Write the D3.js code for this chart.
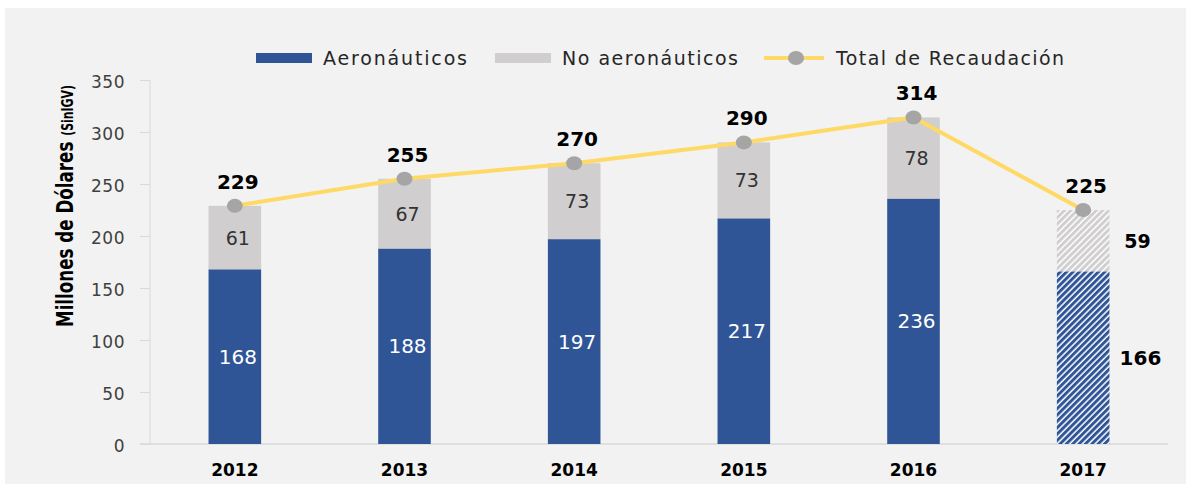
<!DOCTYPE html>
<html>
<head>
<meta charset="utf-8">
<script src="https://cdn.jsdelivr.net/npm/d3@7"></script>
<style>
  body { margin: 0; background: #fff; }
  svg { display: block; font-family: "DejaVu Sans", sans-serif; }
</style>
</head>
<body>
<svg id="chart" width="1186" height="486"></svg>
<script>
  // data
  var years = ["2012", "2013", "2014", "2015", "2016", "2017"];
  var aero = [168, 188, 197, 217, 236, 166];
  var noAero = [61, 67, 73, 73, 78, 59];
  var total = [229, 255, 270, 290, 314, 225];
  var yTicks = [0, 50, 100, 150, 200, 250, 300, 350];
  var projected = "2017";

  var blue = "#2f5597", grey = "#d0cece", yellow = "#ffd966", dot = "#a5a5a5";

  var svg = d3.select("#chart");

  // grey panel
  svg.append("rect")
      .attr("x", 5).attr("y", 8)
      .attr("width", 1181).attr("height", 476)
      .attr("fill", "#f2f2f2");

  var defs = svg.append("defs");
  function hatch(id, color) {
    var p = defs.append("pattern")
        .attr("id", id)
        .attr("patternUnits", "userSpaceOnUse")
        .attr("width", 4.5).attr("height", 4.5)
        .attr("patternTransform", "rotate(45)");
    p.append("rect").attr("width", 4.5).attr("height", 4.5).attr("fill", "#fff");
    p.append("rect").attr("width", 3).attr("height", 4.5).attr("fill", color);
  }
  hatch("hatchBlue", blue);
  hatch("hatchGrey", grey);

  var x = d3.scaleBand()
      .domain(years)
      .range([150, 1168])
      .paddingInner(0.69)
      .paddingOuter(0.345);

  var y = d3.scaleLinear()
      .domain([0, 350])
      .range([444, 80]);

  // axis lines
  svg.append("line")
      .attr("x1", 150).attr("x2", 150)
      .attr("y1", y(350)).attr("y2", y(0))
      .attr("stroke", "#d9d9d9");
  svg.append("line")
      .attr("x1", 140).attr("x2", 1168)
      .attr("y1", y(0)).attr("y2", y(0))
      .attr("stroke", "#d9d9d9").attr("stroke-width", 1.5);

  var yAxis = svg.append("g")
      .attr("transform", "translate(150,0)")
      .call(d3.axisLeft(y).tickValues(yTicks).tickSize(10).tickPadding(15));
  yAxis.select(".domain").remove();
  yAxis.selectAll("line").attr("stroke", "#d9d9d9");
  yAxis.selectAll("text")
      .attr("fill", "#404040")
      .attr("dy", "0.45em")
      .style("font-family", "'DejaVu Sans', sans-serif")
      .style("font-size", "17px")
      .style("letter-spacing", "0.5px");

  // y title (condensed via textLength)
  var title = svg.append("text")
      .attr("transform", "translate(73,206) rotate(-90)")
      .attr("text-anchor", "middle")
      .attr("textLength", 242)
      .attr("lengthAdjust", "spacingAndGlyphs")
      .attr("fill", "#000");
  title.append("tspan").text("Millones de Dólares ")
      .style("font-size", "23px").style("font-weight", "bold");
  title.append("tspan").text("(SinIGV)")
      .style("font-size", "15px").style("font-weight", "bold");

  // x labels
  svg.append("g").selectAll("text")
      .data(years)
      .enter().append("text")
      .attr("x", function(d) { return x(d) + x.bandwidth() / 2; })
      .attr("y", 476)
      .attr("text-anchor", "middle")
      .style("font-size", "17px").style("font-weight", "bold")
      .text(function(d) { return d; });

  // bars
  var bar = svg.append("g").selectAll("g")
      .data(years)
      .enter().append("g");

  bar.append("rect")
      .attr("x", function(d) { return x(d); })
      .attr("width", x.bandwidth())
      .attr("y", function(d, i) { return y(aero[i]); })
      .attr("height", function(d, i) { return y(0) - y(aero[i]); })
      .attr("fill", function(d) { return d === projected ? "url(#hatchBlue)" : blue; });

  bar.append("rect")
      .attr("x", function(d) { return x(d); })
      .attr("width", x.bandwidth())
      .attr("y", function(d, i) { return y(aero[i] + noAero[i]); })
      .attr("height", function(d, i) { return y(aero[i]) - y(aero[i] + noAero[i]); })
      .attr("fill", function(d) { return d === projected ? "url(#hatchGrey)" : grey; });

  // segment labels
  bar.append("text")
      .attr("x", function(d) { return d === projected ? x(d) + x.bandwidth() + 31 : x(d) + x.bandwidth() / 2 + 3; })
      .attr("y", function(d, i) { return (y(0) + y(aero[i])) / 2 + 7; })
      .attr("text-anchor", "middle")
      .attr("fill", function(d) { return d === projected ? "#000" : "#fff"; })
      .style("font-size", "20px")
      .style("font-weight", function(d) { return d === projected ? "bold" : "normal"; })
      .text(function(d, i) { return aero[i]; });

  bar.append("text")
      .attr("x", function(d) { return d === projected ? x(d) + x.bandwidth() + 28 : x(d) + x.bandwidth() / 2 + 3; })
      .attr("y", function(d, i) { return (y(aero[i]) + y(aero[i] + noAero[i])) / 2 + 7; })
      .attr("text-anchor", "middle")
      .attr("fill", function(d) { return d === projected ? "#000" : "#333"; })
      .style("font-size", "19px")
      .style("font-weight", function(d) { return d === projected ? "bold" : "normal"; })
      .text(function(d, i) { return noAero[i]; });

  // total line
  var line = d3.line()
      .x(function(d, i) { return x(years[i]) + x.bandwidth() / 2; })
      .y(function(d) { return y(d); });

  svg.append("path")
      .datum(total)
      .attr("d", line)
      .attr("fill", "none")
      .attr("stroke", yellow)
      .attr("stroke-width", 4);

  svg.append("g").selectAll("ellipse")
      .data(total)
      .enter().append("ellipse")
      .attr("cx", function(d, i) { return x(years[i]) + x.bandwidth() / 2; })
      .attr("cy", function(d) { return y(d); })
      .attr("rx", 8).attr("ry", 7)
      .attr("fill", dot);

  svg.append("g").selectAll("text")
      .data(total)
      .enter().append("text")
      .attr("x", function(d, i) { return x(years[i]) + x.bandwidth() / 2 + 3; })
      .attr("y", function(d) { return y(d) - 17; })
      .attr("text-anchor", "middle")
      .style("font-size", "20px").style("font-weight", "bold")
      .text(function(d) { return d; });

  // legend
  var legend = svg.append("g").style("font-size", "19px").attr("fill", "#262626");
  legend.append("rect").attr("x", 256).attr("y", 53).attr("width", 56).attr("height", 10).attr("fill", blue);
  legend.append("text").attr("x", 323).attr("y", 65).attr("textLength", 144).attr("lengthAdjust", "spacing").text("Aeronáuticos");
  legend.append("rect").attr("x", 495).attr("y", 53).attr("width", 56).attr("height", 10).attr("fill", grey);
  legend.append("text").attr("x", 562).attr("y", 65).attr("textLength", 176).attr("lengthAdjust", "spacing").text("No aeronáuticos");
  legend.append("line").attr("x1", 764).attr("x2", 824).attr("y1", 58).attr("y2", 58)
      .attr("stroke", yellow).attr("stroke-width", 4);
  legend.append("ellipse").attr("cx", 796).attr("cy", 58).attr("rx", 8).attr("ry", 7).attr("fill", dot);
  legend.append("text").attr("x", 836).attr("y", 65).attr("textLength", 228).attr("lengthAdjust", "spacing").text("Total de Recaudación");
</script>
</body>
</html>
